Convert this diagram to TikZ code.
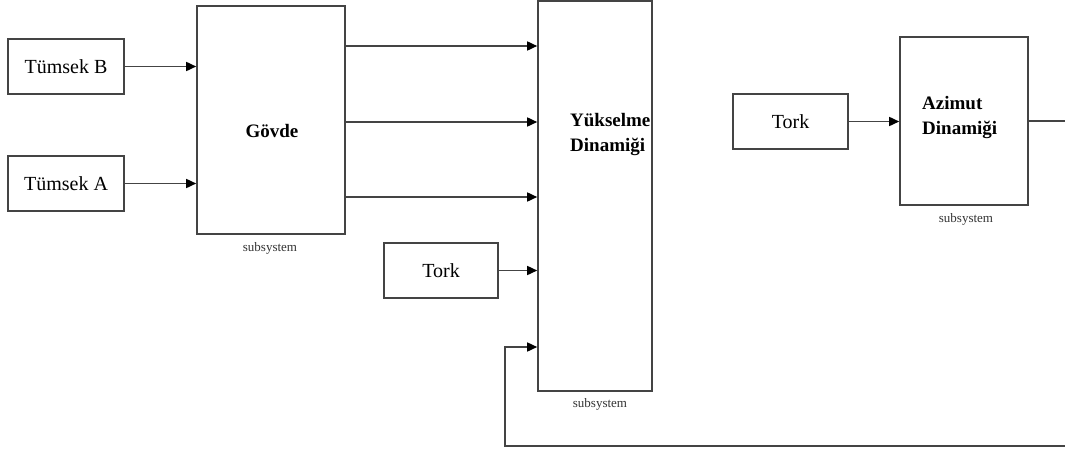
\documentclass[tikz,border=0pt]{standalone}
\usepackage{fontspec}
\setmainfont{Liberation Serif}
\usetikzlibrary{arrows.meta}
\definecolor{ln}{HTML}{444444}
\begin{document}
\begin{tikzpicture}[x=1pt,y=-1pt,
  blk/.style={draw=ln, line width=1.6pt, rectangle, inner sep=0pt, font=\fontsize{20}{22}\selectfont},
  lbl/.style={inner sep=0pt, font=\fontsize{19}{25}\selectfont\bfseries, align=left},
  sub/.style={inner sep=0pt, font=\fontsize{13}{15}\selectfont, text=black!80},
  arr/.style={draw=ln, line width=1.6pt, -{Triangle[length=10pt,width=9pt,fill=black,color=black]}},
  wire/.style={draw=ln, line width=1.6pt}]
\useasboundingbox (0,0) rectangle (1065,450);
% blocks
\node[blk, minimum width=116pt, minimum height=55pt] (tb) at (66,66.5) {Tümsek B};
\node[blk, minimum width=116pt, minimum height=55pt] (ta) at (66,183.5) {Tümsek A};
\node[blk, minimum width=148pt, minimum height=228pt] (gov) at (271,120) {};
\node[lbl] (govl) at (272,131) {Gövde};
\node[sub] (govs) at (270,248) {subsystem};
\node[blk, minimum width=114pt, minimum height=390pt] (yuk) at (595,196) {};
\node[lbl, anchor=west] (yukl) at (570,135) {Yükselme\\Dinamiği};
\node[sub] (yuks) at (600,404) {subsystem};
\node[blk, minimum width=114pt, minimum height=55pt] (tork1) at (441,270.5) {Tork};
\node[blk, minimum width=115pt, minimum height=55pt] (tork2) at (790.5,121.5) {Tork};
\node[blk, minimum width=128pt, minimum height=168pt] (az) at (964,121) {};
\node[lbl, anchor=west] (azl) at (922,118) {Azimut\\Dinamiği};
\node[sub] (azs) at (966,219) {subsystem};
% helper coordinates
\coordinate (y1) at (0,46);
\coordinate (y2) at (0,122);
\coordinate (y3) at (0,197);
\coordinate (y5) at (0,347);
\coordinate (fbx) at (505,446);
\coordinate (outr) at (1065,121);
\coordinate (retr) at (1065,446);
% connectors
\draw[arr] (tb.east) -- (tb.east -| gov.west);
\draw[arr] (ta.east) -- (ta.east -| gov.west);
\draw[arr] (gov.east |- y1) -- (yuk.west |- y1);
\draw[arr] (gov.east |- y2) -- (yuk.west |- y2);
\draw[arr] (gov.east |- y3) -- (yuk.west |- y3);
\draw[arr] (tork1.east) -- (tork1.east -| yuk.west);
\draw[arr] (tork2.east) -- (tork2.east -| az.west);
\draw[wire] (az.east) -- (outr);
\draw[arr] (retr) -- (fbx) |- (yuk.west |- y5);
\end{tikzpicture}
\end{document}
